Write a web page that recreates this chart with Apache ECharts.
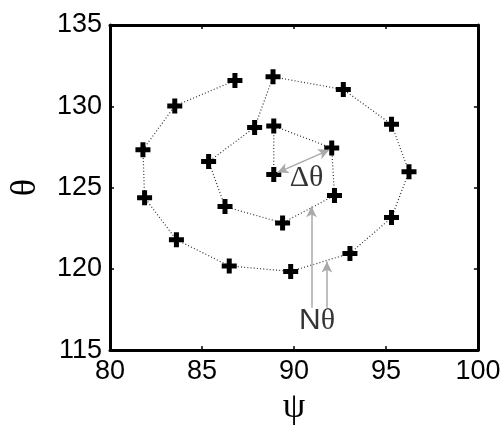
<!DOCTYPE html>
<html><head><meta charset="utf-8">
<script src="https://cdn.jsdelivr.net/npm/echarts@6/dist/echarts.min.js"></script>
<style>html,body{margin:0;padding:0;background:#fff}#c{width:504px;height:431px}</style>
</head><body><div id="c"></div>
<script>
// Spiral path, in drawing order (inner loop first, then outer loop)
const psi   = [88.90, 88.90, 92.05, 92.20, 89.38, 86.25, 85.36, 87.86, 88.86, 92.68, 95.30, 96.25, 95.30, 93.04, 89.82, 86.48, 83.61, 81.88, 81.79, 83.52, 86.79];
const theta = [125.80, 128.79, 127.43, 124.51, 122.82, 123.83, 126.60, 128.70, 131.81, 131.03, 128.89, 125.97, 123.15, 120.95, 119.84, 120.18, 121.79, 124.38, 127.33, 130.02, 131.58];
const xTicks = [80, 85, 90, 95, 100];
const yTicks = [115, 120, 125, 130, 135];
// annotations
const dThetaArrow = [[89.1, 125.92], [91.92, 127.32]];
const nThetaArrows = [[[90.95, 117.6], [90.95, 123.85]], [[91.79, 117.6], [91.79, 120.45]]];
const dThetaLabel = [90.68, 125.55];
const nThetaLabel = [91.25, 116.8];

const pts = psi.map((v, i) => [v, theta[i]]);
const plus = 'path://M5,0H10V5H15V10H10V15H5V10H0V5H5Z';
const serif = 'Liberation Serif';
const sans = 'Liberation Sans';

const axCommon = {
  type: 'value', splitLine: {show: false},
  axisLine: {show: true, lineStyle: {color: '#000', width: 3}},
  axisTick: {show: true, inside: true, length: 4, lineStyle: {color: '#000', width: 1.5}},
  axisLabel: {color: '#000', fontFamily: sans, fontSize: 27},
};
const chart = echarts.init(document.getElementById('c'));
chart.setOption({
  animation: false,
  backgroundColor: '#fff',
  grid: {left: 110, right: 26, top: 25, bottom: 63},
  xAxis: [
    Object.assign({}, axCommon, {min: xTicks[0], max: xTicks[xTicks.length - 1], interval: 5, position: 'bottom',
      axisLabel: Object.assign({}, axCommon.axisLabel, {margin: 8, showMinLabel: true, showMaxLabel: true}),
      name: 'ψ', nameLocation: 'middle', nameGap: 34,
      nameTextStyle: {fontFamily: serif, fontSize: 36, color: '#000'}}),
    Object.assign({}, axCommon, {min: xTicks[0], max: xTicks[xTicks.length - 1], interval: 5, position: 'top',
      axisLabel: {show: false}})
  ],
  yAxis: [
    Object.assign({}, axCommon, {min: yTicks[0], max: yTicks[yTicks.length - 1], interval: 5, position: 'left',
      axisLabel: Object.assign({}, axCommon.axisLabel, {margin: 8}),
      name: 'θ', nameLocation: 'middle', nameGap: 66, nameRotate: 90,
      nameTextStyle: {fontFamily: serif, fontSize: 36, color: '#000'}}),
    Object.assign({}, axCommon, {min: yTicks[0], max: yTicks[yTicks.length - 1], interval: 5, position: 'right',
      axisLabel: {show: false}})
  ],
  series: [
    {
      type: 'line', data: pts, symbol: plus, symbolSize: 15, showAllSymbol: true,
      lineStyle: {color: '#333', width: 1.2, type: [1, 2.2]},
      itemStyle: {color: '#000'}, z: 3,
      markLine: {
        silent: true, animation: false, symbol: ['none', 'arrow'], symbolSize: [8, 11],
        label: {show: false},
        lineStyle: {color: '#aaa', width: 1.5, type: 'solid'},
        data: [
          [{coord: dThetaArrow[0], symbol: 'arrow'}, {coord: dThetaArrow[1]}],
          [{coord: nThetaArrows[0][0]}, {coord: nThetaArrows[0][1]}],
          [{coord: nThetaArrows[1][0]}, {coord: nThetaArrows[1][1]}]
        ]
      }
    },
    {
      type: 'scatter', symbolSize: 0, silent: true,
      data: [
        {value: dThetaLabel, label: {show: true, position: 'inside', formatter: 'Δθ', fontFamily: serif, fontSize: 30, color: '#000'}},
        {value: nThetaLabel, label: {show: true, position: 'inside', formatter: '{a|N}{b|θ}',
          rich: {a: {fontFamily: sans, fontSize: 30, color: '#000'}, b: {fontFamily: serif, fontSize: 30, color: '#000'}}}}
      ]
    }
  ]
});
</script></body></html>
